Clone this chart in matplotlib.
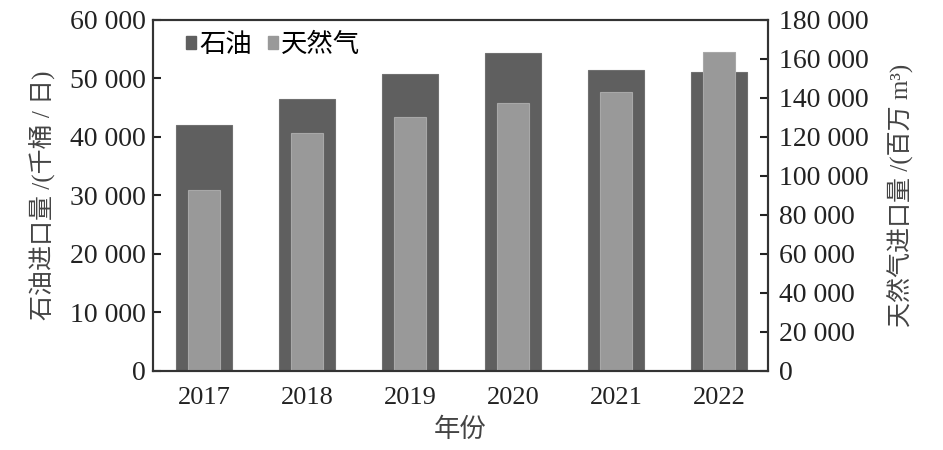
import numpy as np
import matplotlib
matplotlib.use("Agg")
import matplotlib.pyplot as plt
from matplotlib.ticker import FuncFormatter, MultipleLocator
from matplotlib.patches import Patch

plt.rcParams['font.family'] = ['Liberation Serif', 'Noto Sans CJK SC']

# data
years = ['2017', '2018', '2019', '2020', '2021', '2022']
oil = [42000, 46400, 50800, 54400, 51500, 51000]           # 千桶/日
gas = [92500, 121900, 130400, 137300, 143200, 163400]      # 百万 m3

oil_color = '#5f5f5f'
gas_color = '#999999'

def space_fmt(v, pos):
    return f"{int(v):,}".replace(",", " ")

fig = plt.figure(figsize=(9.43, 4.5), dpi=100)
ax = fig.add_axes([0.162, 0.176, 0.652, 0.78])
ax2 = ax.twinx()

x = np.arange(len(years))
ax.bar(x, oil, width=0.54, color=oil_color, edgecolor='#707070', linewidth=0.8)
ax2.bar(x, gas, width=0.31, color=gas_color, edgecolor='#a8a8a8', linewidth=0.8)

ax.set_xlim(-0.5, 5.47)
ax.set_ylim(0, 60000)
ax2.set_ylim(0, 180000)
ax.yaxis.set_major_locator(MultipleLocator(10000))
ax2.yaxis.set_major_locator(MultipleLocator(20000))
ax.yaxis.set_major_formatter(FuncFormatter(space_fmt))
ax2.yaxis.set_major_formatter(FuncFormatter(space_fmt))

ax.set_xticks(x)
ax.set_xticklabels(years)
ax.tick_params(axis='x', length=0, labelsize=19, pad=12, colors='#222222')
ax.tick_params(axis='y', direction='in', length=6, width=1.5, labelsize=20, pad=5, colors='#222222')
ax2.tick_params(axis='y', direction='in', length=6, width=1.5, labelsize=20, pad=8, colors='#222222')

for a in (ax, ax2):
    for s in a.spines.values():
        s.set_linewidth(1.5)
        s.set_color('#333333')

ax.set_xlabel('年份', fontsize=19, labelpad=6, color='#444444')
ax.set_ylabel('石油进口量 /(千桶 / 日)', fontsize=18, labelpad=10, color='#444444')
ax2.set_ylabel('天然气进口量 /(百万 m³)', fontsize=18, labelpad=14, color='#444444')

handles = [Patch(color=oil_color), Patch(color=gas_color)]
ax.legend(handles, ['石油', '天然气'], loc='upper left', ncol=2, frameon=False,
          fontsize=19, handlelength=0.4, handleheight=0.4, handletextpad=0.1,
          columnspacing=0.6, bbox_to_anchor=(0.015, 1.03))

fig.savefig('out.png', dpi=100)
